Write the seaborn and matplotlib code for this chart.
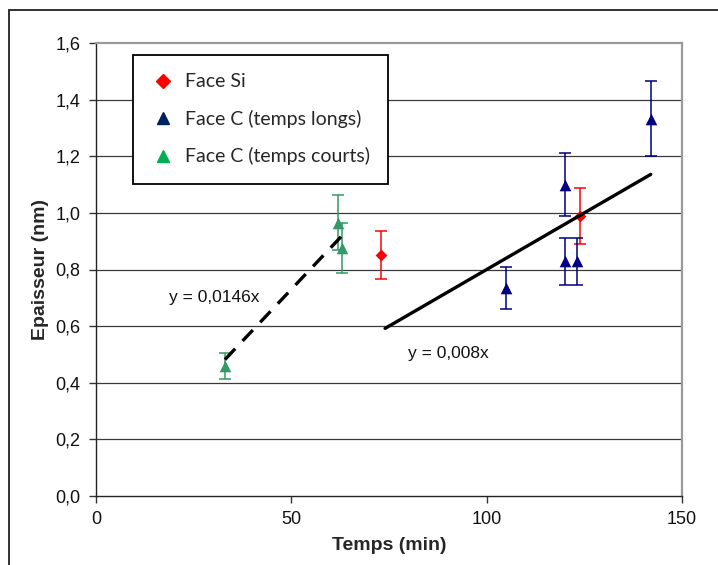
import matplotlib
matplotlib.use("Agg")
import matplotlib.pyplot as plt
import seaborn as sns
import numpy as np
import pandas as pd
from matplotlib.lines import Line2D
from matplotlib.patches import Rectangle
from matplotlib.ticker import FuncFormatter

# Data
si_x = [73, 124]
si_y = [0.85, 0.99]
cl_x = [105, 120, 120, 123, 142]
cl_y = [0.735, 1.10, 0.83, 0.83, 1.333]
cc_x = [33, 62, 63]
cc_y = [0.46, 0.965, 0.875]
err_frac = 0.10

fit_short_slope = 0.0146
fit_short_x = [33, 63]
fit_long_slope = 0.008
fit_long_x = [74, 142]

x_ticks = [0, 50, 100, 150]
y_ticks = [0.0, 0.2, 0.4, 0.6, 0.8, 1.0, 1.2, 1.4, 1.6]

sns.set_theme(style="white")
plt.rcParams['font.family'] = ['Liberation Sans', 'DejaVu Sans']

fig = plt.figure(figsize=(7.18, 5.65), dpi=100)
ax = fig.add_axes([96/718, 1-496/565, (682-96)/718, (496-43)/565])

# outer chart border
fig.patches.append(Rectangle((9/718, -0.05), 1.0, 1.05 - 10/565,
                             transform=fig.transFigure, fill=False,
                             edgecolor='#202020', linewidth=1.3, zorder=0))

# grid
for yv in y_ticks[1:-1]:
    ax.axhline(yv, color='#3a3a3a', linewidth=0.9, zorder=0)

red = '#FF0000'
navy = '#000080'
green = '#339966'

# error bars
ax.errorbar(si_x, si_y, yerr=[v*err_frac for v in si_y], fmt='none',
            ecolor=red, elinewidth=1.1, capsize=4, capthick=1.1, zorder=2)
ax.errorbar(cl_x, cl_y, yerr=[v*err_frac for v in cl_y], fmt='none',
            ecolor=navy, elinewidth=1.1, capsize=4, capthick=1.1, zorder=2)
ax.errorbar(cc_x, cc_y, yerr=[v*err_frac for v in cc_y], fmt='none',
            ecolor=green, elinewidth=1.1, capsize=4, capthick=1.1, zorder=2)

# markers
sns.scatterplot(x=si_x, y=si_y, ax=ax, marker='D', color=red, s=36,
                linewidth=0, zorder=3)
sns.scatterplot(x=cl_x, y=cl_y, ax=ax, marker='^', color=navy, s=70,
                linewidth=0, zorder=3)
sns.scatterplot(x=cc_x, y=cc_y, ax=ax, marker='^', color=green, s=70,
                linewidth=0, zorder=3)

# trend lines
fx_s = np.array(fit_short_x, dtype=float)
fx_l = np.array(fit_long_x, dtype=float)
ax.plot(fx_s, fit_short_slope*fx_s, color='black', linewidth=2.4,
        linestyle=(0, (4.5, 3.2)), zorder=4)
sns.lineplot(x=fx_l, y=fit_long_slope*fx_l, ax=ax, color='black',
             linewidth=2.4, zorder=4)

ax.text(30.2, 0.70, 'y = 0,0146x', ha='center', va='center', fontsize=12.5,
        color='#111111')
ax.text(90.3, 0.505, 'y = 0,008x', ha='center', va='center', fontsize=12.5,
        color='#111111')

ax.set_xlim(0, 150)
ax.set_ylim(0, 1.6)
ax.set_xticks(x_ticks)
ax.set_yticks(y_ticks)
ax.yaxis.set_major_formatter(FuncFormatter(lambda v, p: f"{v:.1f}".replace('.', ',')))
ax.xaxis.set_major_formatter(FuncFormatter(lambda v, p: f"{int(v)}"))
ax.tick_params(axis='both', direction='out', length=5, width=1, color='#333333',
               labelsize=13, labelcolor='#111111', pad=6,
               left=True, bottom=True)

for s in ['left', 'bottom']:
    ax.spines[s].set_color('#222222')
    ax.spines[s].set_linewidth(1.0)
for s in ['top', 'right']:
    ax.spines[s].set_color('#9a9a9a')
    ax.spines[s].set_linewidth(1.6)

ax.set_xlabel('Temps (min)', fontsize=14, fontweight='bold', labelpad=6)
ax.set_ylabel('Epaisseur (nm)', fontsize=14, fontweight='bold', labelpad=5)

handles = [
    Line2D([], [], linestyle='none', marker='D', color=red, markersize=7),
    Line2D([], [], linestyle='none', marker='^', color='#002060', markersize=9),
    Line2D([], [], linestyle='none', marker='^', color='#00B050', markersize=9),
]
labels = ['Face Si', 'Face C (temps longs)', 'Face C (temps courts)']
leg = ax.legend(handles, labels, loc='upper left',
                bbox_to_anchor=((133-96)/586, 1-(55-43)/453),
                frameon=True, fancybox=False, framealpha=1,
                edgecolor='black', prop={'family': 'Lato', 'size': 14},
                handletextpad=0.5, handlelength=1.2, labelspacing=1.0,
                borderpad=0.95, borderaxespad=0)
leg.get_frame().set_linewidth(1.3)
leg.set_zorder(5)

fig.savefig('out.png', dpi=100)
